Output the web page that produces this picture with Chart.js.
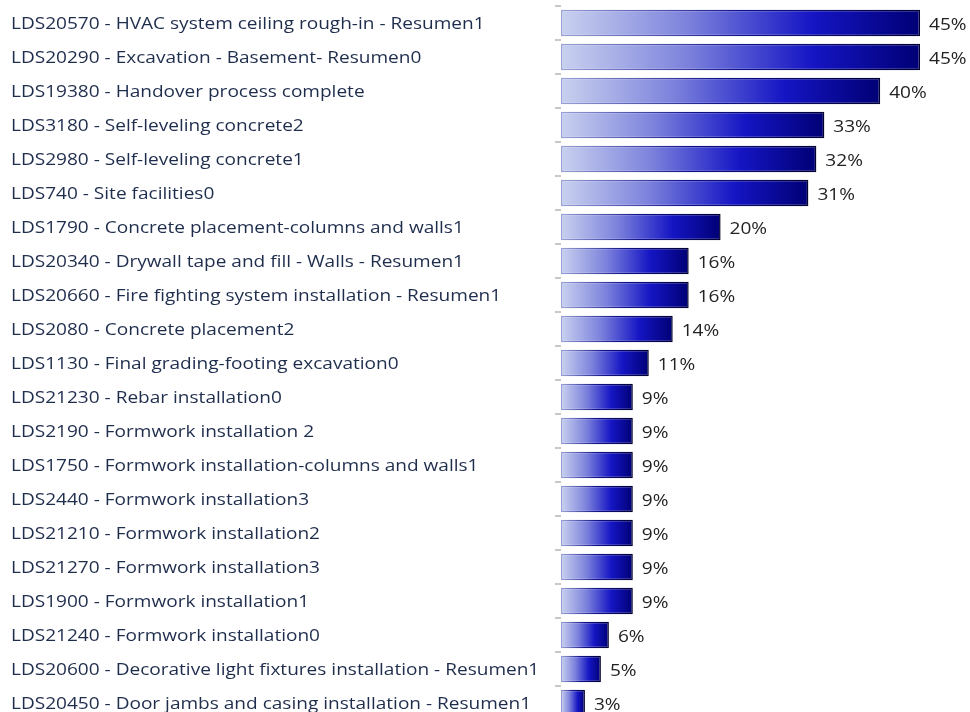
<!DOCTYPE html>
<html>
<head>
<meta charset="utf-8">
<script src="https://cdn.jsdelivr.net/npm/chart.js@4/dist/chart.umd.min.js"></script>
<style>
  html, body { margin: 0; padding: 0; background: #fff; overflow: hidden; }
  #wrap { width: 970px; height: 720px; }
</style>
</head>
<body>
<div id="wrap"><canvas id="chart"></canvas></div>
<script>
const tasks = [
  'LDS20570 - HVAC system ceiling rough-in - Resumen1',
  'LDS20290 - Excavation - Basement- Resumen0',
  'LDS19380 - Handover process complete',
  'LDS3180 - Self-leveling concrete2',
  'LDS2980 - Self-leveling concrete1',
  'LDS740 - Site facilities0',
  'LDS1790 - Concrete placement-columns and walls1',
  'LDS20340 - Drywall tape and fill - Walls - Resumen1',
  'LDS20660 - Fire fighting system installation - Resumen1',
  'LDS2080 - Concrete placement2',
  'LDS1130 - Final grading-footing excavation0',
  'LDS21230 - Rebar installation0',
  'LDS2190 - Formwork installation 2',
  'LDS1750 - Formwork installation-columns and walls1',
  'LDS2440 - Formwork installation3',
  'LDS21210 - Formwork installation2',
  'LDS21270 - Formwork installation3',
  'LDS1900 - Formwork installation1',
  'LDS21240 - Formwork installation0',
  'LDS20600 - Decorative light fixtures installation - Resumen1',
  'LDS20450 - Door jambs and casing installation - Resumen1'
];
const progress = [45, 45, 40, 33, 32, 31, 20, 16, 16, 14, 11, 9, 9, 9, 9, 9, 9, 9, 6, 5, 3];

const fontFamily = "'Open Sans', 'Noto Sans', sans-serif";
const textStretch = 1.19; // the report font runs wide

// each bar gets its own light-to-dark gradient across its length
function barGradient(ctx, dark) {
  const chart = ctx.chart;
  if (!chart.chartArea || ctx.dataIndex === undefined) return '#1010b0';
  const x = chart.scales.x;
  const x0 = x.getPixelForValue(0);
  const x1 = x.getPixelForValue(progress[ctx.dataIndex]);
  const g = chart.ctx.createLinearGradient(x0, 0, Math.max(x1, x0 + 1), 0);
  if (dark) {
    g.addColorStop(0, '#9aa2d8');
    g.addColorStop(0.5, '#10108a');
    g.addColorStop(1, '#000030');
  } else {
    g.addColorStop(0, '#c9d1ef');
    g.addColorStop(0.35, '#7d83dc');
    g.addColorStop(0.7, '#1515c4');
    g.addColorStop(1, '#000075');
  }
  return g;
}

function wideText(c, text, x, y) {
  c.save();
  c.translate(x, y);
  c.scale(textStretch, 1);
  c.fillText(text, 0, 0);
  c.restore();
}

// task names on the left and percentages after each bar
const rowText = {
  id: 'rowText',
  afterDatasetsDraw(chart) {
    const c = chart.ctx;
    const yScale = chart.scales.y;
    const meta = chart.getDatasetMeta(0);
    c.save();
    c.font = '16px ' + fontFamily;
    c.textAlign = 'left';
    c.textBaseline = 'alphabetic';
    c.fillStyle = '#1f2d4d';
    tasks.forEach((name, i) => {
      wideText(c, name, 11, yScale.getPixelForTick(i) + 6);
    });
    c.fillStyle = '#222';
    meta.data.forEach((bar, i) => {
      wideText(c, progress[i] + '%', bar.x + 9, bar.y + 6.5);
    });
    c.restore();
  }
};

new Chart(document.getElementById('chart'), {
  type: 'bar',
  data: {
    labels: tasks,
    datasets: [{
      data: progress,
      backgroundColor: ctx => barGradient(ctx, false),
      borderColor: ctx => barGradient(ctx, true),
      borderWidth: 1.5,
      borderSkipped: false,
      categoryPercentage: 0.78,
      barPercentage: 1
    }]
  },
  options: {
    indexAxis: 'y',
    responsive: true,
    maintainAspectRatio: false,
    animation: false,
    layout: { padding: { left: 0, right: 10, top: 6, bottom: 0 } },
    plugins: {
      legend: { display: false },
      tooltip: { enabled: false }
    },
    scales: {
      x: {
        display: false,
        min: 0,
        max: 50
      },
      y: {
        offset: true,
        border: { display: false },
        grid: {
          drawOnChartArea: false,
          drawTicks: true,
          tickLength: 6,
          color: '#c8c8c8',
          lineWidth: 2
        },
        ticks: { display: false },
        afterFit(scale) { scale.width = 561; }
      }
    }
  },
  plugins: [rowText]
});
</script>
</body>
</html>
